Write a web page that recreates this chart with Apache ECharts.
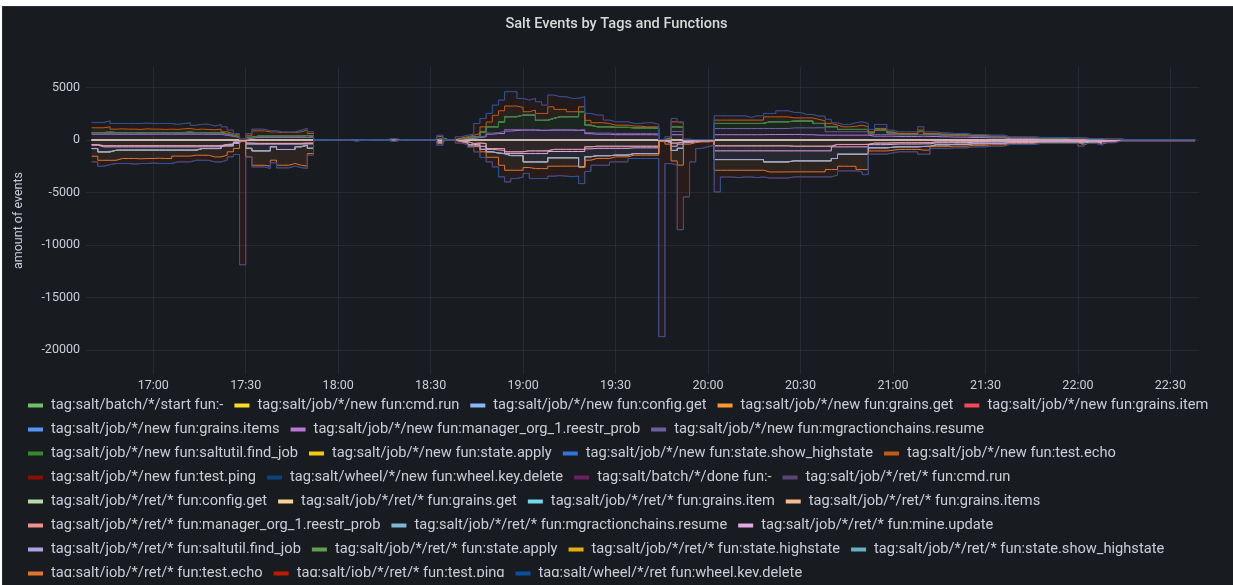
<!DOCTYPE html>
<html><head><meta charset="utf-8">
<script src="https://cdn.jsdelivr.net/npm/echarts/dist/echarts.min.js"></script>
<style>
html,body{margin:0;padding:0;width:1233px;height:585px;background:#fff;overflow:hidden;}
#panel{position:absolute;left:2px;top:6px;width:1231px;height:579px;background:#181b1f;border-top:1px solid #2b2e33;border-left:1px solid #2b2e33;box-sizing:border-box;}
#chart{position:absolute;left:0;top:0;width:1233px;height:577px;}
</style></head>
<body><div id="panel"></div><div id="chart"></div>
<script>
// ---- time stamps (2-minute samples) ----
const times = [
'16:40','16:42','16:44','16:46','16:48','16:50','16:52','16:54','16:56','16:58',
'17:00','17:02','17:04','17:06','17:08','17:10','17:12','17:14','17:16','17:18','17:20','17:22','17:24','17:26','17:28','17:30','17:32','17:34','17:36','17:38','17:40','17:42','17:44','17:46','17:48','17:50','17:52','17:54','17:56','17:58',
'18:00','18:02','18:04','18:06','18:08','18:10','18:12','18:14','18:16','18:18','18:20','18:22','18:24','18:26','18:28','18:30','18:32','18:34','18:36','18:38','18:40','18:42','18:44','18:46','18:48','18:50','18:52','18:54','18:56','18:58',
'19:00','19:02','19:04','19:06','19:08','19:10','19:12','19:14','19:16','19:18','19:20','19:22','19:24','19:26','19:28','19:30','19:32','19:34','19:36','19:38','19:40','19:42','19:44','19:46','19:48','19:50','19:52','19:54','19:56','19:58',
'20:00','20:02','20:04','20:06','20:08','20:10','20:12','20:14','20:16','20:18','20:20','20:22','20:24','20:26','20:28','20:30','20:32','20:34','20:36','20:38','20:40','20:42','20:44','20:46','20:48','20:50','20:52','20:54','20:56','20:58',
'21:00','21:02','21:04','21:06','21:08','21:10','21:12','21:14','21:16','21:18','21:20','21:22','21:24','21:26','21:28','21:30','21:32','21:34','21:36','21:38','21:40','21:42','21:44','21:46','21:48','21:50','21:52','21:54','21:56','21:58',
'22:00','22:02','22:04','22:06','22:08','22:10','22:12','22:14','22:16','22:18','22:20','22:22','22:24','22:26','22:28','22:30','22:32','22:34','22:36','22:38'
];
const axisStart = '16:38:11';
const axisEnd = '22:39:17';

// series that stay at zero over the whole range
const zeroValues = [
0,0,0,0,0,0,0,0,0,0, 0,0,0,0,0,0,0,0,0,0, 0,0,0,0,0,0,0,0,0,0,
0,0,0,0,0,0,0,0,0,0, 0,0,0,0,0,0,0,0,0,0, 0,0,0,0,0,0,0,0,0,0,
0,0,0,0,0,0,0,0,0,0, 0,0,0,0,0,0,0,0,0,0, 0,0,0,0,0,0,0,0,0,0,
0,0,0,0,0,0,0,0,0,0, 0,0,0,0,0,0,0,0,0,0, 0,0,0,0,0,0,0,0,0,0,
0,0,0,0,0,0,0,0,0,0, 0,0,0,0,0,0,0,0,0,0, 0,0,0,0,0,0,0,0,0,0,
0,0,0,0,0,0,0,0,0,0, 0,0,0,0,0,0,0,0,0,0, 0,0,0,0,0,0,0,0,0,0
];

// ---- "new" events (positive) ----
const newReestrProb = [
550,550,560,550,550,550,550,540,550,550,550,550,550,540,550,560,540,550,540,530,540,450,360,240,
20,
180,240,240,240,240,240,240,240,240,240,240,
0,0,0,0,0,0,0,0,0,0,0,0,30,0,0,0,0,0,0,0,100,0,0,60,
120,140,240,300,550,610,610,850,900,930,930,930,900,900,930,930,930,930,900,930,600,550,550,550,500,500,500,500,500,500,500,480,
10,50,500,500,20,0,0,0,0,
500,500,500,500,500,500,500,500,520,520,520,520,520,520,500,500,460,460,460,460,460,460,460,460,460,
360,360,360,360,330,330,330,330,360,330,330,300,300,270,270,270,230,230,230,200,200,200,130,130,130,130,130,100,100,100,100,100,90,90,90,60,60,60,30,30,30,10,10,10,10,10,10,10,10,10,10,10,10,10
];
const newMgraction = [
40,40,40,40,40,40,40,40,40,40,40,40,40,40,40,40,40,40,40,40,40,50,20,10,
0,
20,30,30,30,30,30,30,30,30,30,30,
0,0,0,0,0,0,0,0,0,0,0,0,0,0,0,0,0,0,0,0,20,0,0,10,
30,60,20,100,100,90,190,150,100,70,70,70,50,50,70,70,70,70,50,70,100,100,100,100,120,120,120,120,120,120,120,120,
0,30,300,300,0,0,0,0,0,
590,590,590,590,590,590,590,590,570,570,570,570,630,630,650,650,700,700,320,320,320,320,320,320,320,
160,160,160,160,150,150,150,150,160,150,150,130,130,120,120,120,100,100,100,90,90,90,60,60,60,60,60,50,50,50,50,50,40,40,40,30,30,30,20,20,20,10,10,10,10,10,10,10,10,10,10,10,10,10
];
const newSaltutil = [
120,120,140,120,110,120,120,100,120,120,120,110,120,100,120,140,120,120,120,110,120,100,70,50,
10,
50,90,90,90,90,90,90,90,90,150,90,
0,0,0,0,0,0,0,0,0,0,0,0,20,0,0,0,0,0,0,0,60,0,0,40,
50,100,40,350,600,550,910,1210,1210,1370,1370,1370,920,920,1050,1210,1210,1210,1260,1690,710,600,600,600,580,580,580,530,530,530,530,500,
0,50,450,400,10,0,0,0,0,
480,480,480,480,480,480,480,480,640,640,640,640,650,650,650,650,410,410,480,480,220,220,220,220,220,
160,420,420,160,70,70,70,70,280,70,70,80,80,80,80,80,60,60,60,60,60,60,40,40,40,40,40,30,30,30,30,30,30,30,30,20,20,20,10,10,10,0,0,0,0,0,0,0,0,0,0,0,0,0
];
const newTestEcho = [
450,450,510,320,360,320,320,320,350,320,320,300,320,320,350,350,300,320,300,290,330,180,150,160,
40,
200,510,510,410,410,350,350,350,420,520,260,
20,20,20,20,20,20,30,20,40,20,20,20,60,40,20,20,30,20,20,20,150,20,20,90,
100,150,310,500,460,1100,1070,1020,1020,730,320,480,660,660,1110,700,700,480,480,470,460,390,390,320,210,210,210,170,170,100,100,150,
30,100,480,400,30,20,20,20,20,
320,320,320,320,320,320,320,320,470,470,470,470,300,300,300,300,380,260,320,150,250,250,300,410,250,
100,160,160,100,60,60,60,60,140,60,60,70,70,60,60,60,60,60,60,50,50,50,40,40,40,40,40,30,30,30,30,30,20,20,20,20,20,20,10,10,10,10,10,10,10,10,10,10,10,10,10,10,10,10
];
const newTestPing = [
510,510,580,540,510,540,540,570,550,540,540,570,540,480,510,540,400,470,500,350,450,470,340,160,
10,
170,160,160,100,100,60,60,60,160,160,160,
0,0,0,0,0,0,0,0,0,0,0,0,40,0,0,0,0,0,0,0,120,0,0,100,
150,110,960,800,820,970,1020,1370,1370,860,1110,1110,1110,790,1120,1210,1210,1270,1270,960,660,730,730,320,320,320,320,250,250,390,390,250,
0,70,320,130,10,0,0,0,0,
410,410,410,410,410,260,410,410,330,330,580,580,520,520,330,330,320,440,380,220,220,220,340,320,320,
220,380,380,160,160,160,160,160,320,160,160,100,100,90,90,90,70,70,70,60,60,60,30,30,30,30,30,30,30,30,30,30,20,20,20,10,10,10,10,10,10,0,0,0,0,0,0,0,0,0,0,0,0,0
];

// ---- "ret" events (negative) ----
const retReestrProb = [
-450,-550,-550,-550,-550,-550,-550,-550,-550,-550,-550,-550,-550,-550,-550,-550,-550,-550,-550,-550,-550,-430,-400,-200,
-30,
-300,-330,-330,-330,-330,-330,-330,-330,-330,-300,-300,
0,0,0,0,0,0,0,0,0,0,0,0,-30,0,0,0,0,0,0,0,-60,0,0,-40,
-150,-340,-300,-340,-820,-820,-820,-1130,-1130,-1130,-1040,-1040,-1040,-1040,-900,-900,-900,-900,-900,-900,-650,-600,-600,-600,-600,-600,-600,-600,-600,-600,-600,-600,
-30,-100,-300,-200,-100,-60,-40,-40,-30,
-560,-560,-560,-560,-560,-560,-560,-560,-560,-560,-560,-560,-600,-600,-600,-600,-600,-600,-600,-430,-430,-430,-430,-430,-430,
-300,-300,-300,-280,-260,-260,-260,-260,-250,-250,-190,-190,-190,-170,-170,-170,-150,-150,-150,-130,-130,-130,-100,-100,-100,-100,-100,-80,-80,-80,-80,-80,-80,-80,-130,-80,-80,-110,-60,-60,-30,-30,-30,-30,-30,-30,-30,-30,-30,-30,-30,-30,-30,-30
];
const retMineUpdate = [
-50,-110,-110,-110,-110,-110,-110,-110,-110,-110,-110,-110,-110,-110,-110,-110,-110,-110,-110,-110,-110,-70,-80,-60,
-20,
-100,-70,-70,-70,-70,-70,-70,-70,-70,-80,-80,
0,0,0,0,0,0,0,0,0,0,0,0,0,0,0,0,0,0,0,0,-40,0,0,-30,
-50,-110,-100,-260,-80,-130,-180,-170,-170,-170,-260,-260,-260,-260,-200,-200,-200,-200,-200,-200,-200,-200,-200,-200,-200,-200,-200,-150,-150,-150,-150,-150,
-20,-50,-300,-200,-50,-40,-30,-30,-20,
-480,-480,-480,-480,-480,-480,-480,-480,-480,-480,-480,-480,-440,-440,-440,-440,-440,-440,-440,-230,-230,-230,-230,-230,-230,
-150,-150,-150,-140,-130,-130,-130,-130,-120,-120,-90,-90,-90,-90,-90,-90,-70,-70,-70,-70,-70,-70,-50,-50,-50,-50,-50,-40,-40,-40,-40,-40,-40,-40,-60,-40,-40,-60,-30,-30,-10,-10,-10,-10,-10,-10,-10,-10,-10,-10,-10,-10,-10,-10
];
const retSaltutil = [
-320,-480,-480,-320,-310,-310,-310,-310,-310,-310,-310,-310,-310,-310,-310,-310,-310,-160,-160,-160,-160,-60,-80,-80,
-30,
-400,-640,-640,-640,-250,-510,-510,-510,-250,-120,-420,
0,0,0,0,0,0,0,0,0,0,0,0,-20,0,0,0,0,0,0,0,-100,0,0,-60,
-80,-150,-160,-300,-230,-300,-300,-190,-190,-190,-790,-790,-790,-790,-600,-600,-600,-600,-600,-1470,-750,-700,-700,-700,-650,-650,-650,-550,-550,-550,-550,-550,
-30,-100,-400,-400,-100,-60,-40,-40,-30,
-830,-830,-830,-830,-830,-830,-830,-830,-1050,-1050,-1050,-1050,-950,-950,-950,-950,-950,-950,-950,-1110,-700,-700,-700,-700,-700,
-300,-300,-300,-280,-260,-260,-260,-260,-250,-250,-180,-180,-180,-160,-160,-160,-140,-140,-140,-130,-130,-130,-90,-90,-90,-90,-90,-70,-70,-70,-70,-70,-70,-70,-130,-70,-70,-100,-60,-60,-20,-20,-20,-20,-20,-20,-20,-20,-20,-20,-20,-20,-20,-20
];
const retTestEcho = [
-730,-800,-800,-960,-800,-800,-800,-830,-800,-800,-770,-800,-800,-570,-570,-570,-480,-640,-640,-800,-800,-890,-570,-480,
-80,
-810,-1370,-1370,-1460,-1280,-1500,-1500,-1340,-1760,-2000,-500,
-20,-20,-20,-20,-20,-20,-20,-20,-40,-20,-20,-20,-60,-40,-20,-20,-30,-20,-20,-20,-150,-20,-20,-80,
-70,-20,-100,-230,-520,-400,-1110,-1400,-1400,-1400,-540,-640,-640,-640,-800,-800,-800,-800,-800,-60,-330,-270,-270,-270,-160,-160,-160,-150,-150,-150,-150,-150,
-60,-150,-1000,-1600,-150,-100,-80,-80,-60,
-1020,-1020,-1020,-1020,-1020,-1020,-1020,-1020,-960,-960,-960,-960,-1050,-1050,-1050,-1050,-1050,-1050,-830,-1050,-1150,-1150,-1150,-1460,-1460,
-300,-300,-300,-280,-250,-250,-250,-250,-350,-350,-180,-180,-180,-170,-170,-170,-150,-150,-150,-130,-130,-130,-100,-100,-100,-100,-100,-80,-80,-80,-80,-80,-80,-80,-130,-80,-80,-110,-60,-60,-30,-30,-30,-30,-30,-30,-30,-30,-30,-30,-30,-30,-30,-30
];
const retTestPing = [
-540,-570,-410,-310,-480,-480,-530,-450,-480,-430,-510,-480,-480,-550,-550,-550,-480,-480,-480,-480,-480,-480,-480,-570,
-11730,
-20,-160,-160,-220,-250,-250,-250,-250,-220,-220,-150,
0,0,0,0,0,0,-100,0,0,0,0,0,-40,0,0,0,0,0,0,0,-150,0,0,-90,
-100,-80,-480,-540,-440,-920,-1110,-1110,-790,-640,-570,-950,-950,-950,-950,-900,-950,-1000,-950,-1530,-1070,-640,-640,-640,-480,-480,-480,-320,-320,-320,-320,-320,
-18600,-1850,-400,-6150,-5030,-1830,-620,-460,-360,
-2070,-640,-640,-700,-640,-640,-700,-640,-580,-580,-580,-580,-480,-480,-480,-480,-480,-480,-700,-540,-440,-440,-440,-220,-480,
-300,-300,-300,-250,-230,-230,-230,-230,-390,-390,-180,-180,-180,-160,-160,-160,-150,-150,-150,-130,-130,-130,-90,-90,-90,-90,-90,-70,-70,-70,-70,-70,-70,-70,-140,-70,-70,-120,-60,-60,-20,-20,-20,-20,-20,-20,-20,-20,-20,-20,-20,-20,-20,-20
];

// ---- legend names (stack order) ----
const seriesNames = [
'tag:salt/batch/*/start fun:-',
'tag:salt/job/*/new fun:cmd.run',
'tag:salt/job/*/new fun:config.get',
'tag:salt/job/*/new fun:grains.get',
'tag:salt/job/*/new fun:grains.item',
'tag:salt/job/*/new fun:grains.items',
'tag:salt/job/*/new fun:manager_org_1.reestr_prob',
'tag:salt/job/*/new fun:mgractionchains.resume',
'tag:salt/job/*/new fun:saltutil.find_job',
'tag:salt/job/*/new fun:state.apply',
'tag:salt/job/*/new fun:state.show_highstate',
'tag:salt/job/*/new fun:test.echo',
'tag:salt/job/*/new fun:test.ping',
'tag:salt/wheel/*/new fun:wheel.key.delete',
'tag:salt/batch/*/done fun:-',
'tag:salt/job/*/ret/* fun:cmd.run',
'tag:salt/job/*/ret/* fun:config.get',
'tag:salt/job/*/ret/* fun:grains.get',
'tag:salt/job/*/ret/* fun:grains.item',
'tag:salt/job/*/ret/* fun:grains.items',
'tag:salt/job/*/ret/* fun:manager_org_1.reestr_prob',
'tag:salt/job/*/ret/* fun:mgractionchains.resume',
'tag:salt/job/*/ret/* fun:mine.update',
'tag:salt/job/*/ret/* fun:saltutil.find_job',
'tag:salt/job/*/ret/* fun:state.apply',
'tag:salt/job/*/ret/* fun:state.highstate',
'tag:salt/job/*/ret/* fun:state.show_highstate',
'tag:salt/job/*/ret/* fun:test.echo',
'tag:salt/job/*/ret/* fun:test.ping',
'tag:salt/wheel/*/ret fun:wheel.key.delete'
];
const seriesValues = [
zeroValues, zeroValues, zeroValues, zeroValues, zeroValues, zeroValues,
newReestrProb, newMgraction, newSaltutil, zeroValues, zeroValues, newTestEcho, newTestPing, zeroValues,
zeroValues, zeroValues, zeroValues, zeroValues, zeroValues, zeroValues,
retReestrProb, zeroValues, retMineUpdate, retSaltutil, zeroValues, zeroValues, zeroValues, retTestEcho, retTestPing, zeroValues
];

// ---- styles ----
const seriesColors = [
'#73BF69','#FADE2A','#8AB8FF','#FF9830','#F2495C','#5794F2','#B877D9','#705DA0','#37872D','#F2CC0C',
'#3274D9','#C15C17','#890F02','#0A437C','#6D1F62','#584477','#B7DBAB','#F4D598','#70DBED','#F9BA8F',
'#F29191','#82B5D8','#E5A8E2','#AEA2E0','#629E51','#E5AC0E','#64B0C8','#E0752D','#BF1B00','#0A50A1'
];
const wheelLineColor = '#1A5BA8';
const textColor = '#ccccdc';
const gridColor = 'rgba(204,204,220,0.09)';

const ts = s => { const p = s.split(':').map(Number); return Date.UTC(2021, 4, 20, p[0], p[1], p[2] || 0); };
const timeStamps = times.map(ts);
seriesValues.forEach((v, i) => { if (v.length !== times.length) throw new Error('length mismatch ' + seriesNames[i] + ' ' + v.length); });

const series = seriesNames.map((name, i) => {
  const vals = seriesValues[i];
  const isWheel = (i === 13 || i === 29);
  const z = isWheel ? 4 : (vals === zeroValues ? 2 : 3);
  return {
    name: name, type: 'line', stack: i < 14 ? 'pos' : 'neg', step: 'end',
    symbol: 'none', showSymbol: false, z: z, silent: true,
    data: vals.map((v, k) => [timeStamps[k], v]),
    lineStyle: { width: 1, color: isWheel ? wheelLineColor : seriesColors[i] },
    itemStyle: { color: seriesColors[i] },
    areaStyle: { color: seriesColors[i], opacity: 0.1 },
    emphasis: { disabled: true }
  };
});

const chart = echarts.init(document.getElementById('chart'), null, { renderer: 'canvas' });
chart.setOption({
  animation: false,
  useUTC: true,
  backgroundColor: 'transparent',
  title: {
    text: 'Salt Events by Tags and Functions', left: 'center', top: 17, padding: 0,
    textStyle: { color: '#d8d9da', fontSize: 14.6, fontWeight: 500, fontFamily: 'Roboto' }
  },
  grid: { left: 86, right: 34, top: 67, bottom: 203 },
  xAxis: {
    type: 'time', min: ts(axisStart), max: ts(axisEnd),
    splitNumber: 12,
    axisLine: { show: false }, axisTick: { show: false },
    axisLabel: { color: textColor, fontSize: 12.5, fontFamily: 'Roboto', margin: 5, formatter: '{HH}:{mm}', showMinLabel: false, showMaxLabel: false },
    splitLine: { show: true, showMinLine: false, showMaxLine: false, lineStyle: { color: gridColor, width: 1 } }
  },
  yAxis: {
    type: 'value', min: -22300, max: 6950,
    name: 'amount of events', nameLocation: 'middle', nameGap: 61,
    nameTextStyle: { color: textColor, fontSize: 12.5, fontFamily: 'Roboto' },
    axisLine: { show: false }, axisTick: { show: false },
    axisLabel: { color: textColor, fontSize: 12.5, fontFamily: 'Roboto', margin: 6, showMinLabel: false, showMaxLabel: false, formatter: v => String(v) },
    splitLine: { show: true, showMinLine: false, showMaxLine: false, lineStyle: { color: gridColor, width: 1 } }
  },
  legend: {
    type: 'plain', left: 28, top: 398, right: 14, padding: 0,
    icon: 'rect', itemWidth: 15, itemHeight: 4, itemGap: 9, selectedMode: false,
    textStyle: { color: textColor, fontSize: 14.65, fontFamily: 'Roboto', lineHeight: 15, padding: [0, 2, 0, 3] }
  },
  series: series
});
</script></body></html>
